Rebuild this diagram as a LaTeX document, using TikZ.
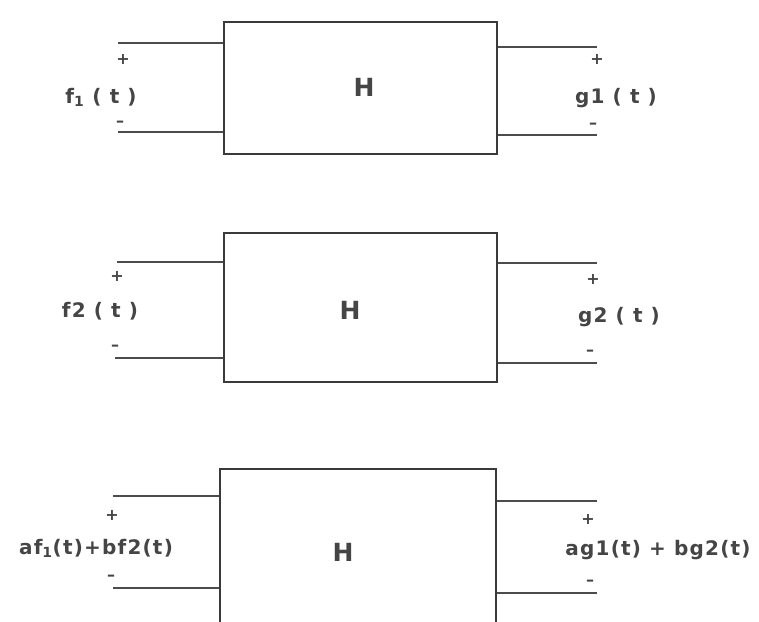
\documentclass[tikz,border=0pt]{standalone}
\usepackage{fontspec}
\setmainfont{DejaVu Sans}
\definecolor{ink}{HTML}{3A3A3A}
\definecolor{wire}{HTML}{4C4C4C}
\definecolor{txt}{HTML}{454545}
\begin{document}
\begin{tikzpicture}[x=1pt,y=-1pt,
  sysbox/.style={draw=ink,line width=2.2pt,rectangle,inner sep=0pt},
  hlabel/.style={text=txt,inner sep=0pt,font=\fontsize{25}{27}\selectfont\bfseries},
  wireline/.style={draw=wire,line width=1.4pt},
  sig/.style={font=\fontsize{20}{22}\selectfont\bfseries\addfontfeature{LetterSpace=6},text=txt,inner sep=0pt},
  pol/.style={font=\fontsize{16}{18}\selectfont\bfseries,text=txt,inner sep=0pt}]
\useasboundingbox (0,0) rectangle (759,621);
\clip (0,0) rectangle (759,621);
\fill[white] (0,0) rectangle (759,621);
% ---------- system 1 ----------
\node[sysbox,minimum width=273pt,minimum height=132pt] (b1) at (360.5,88) {};
\node[hlabel] (h1) at (364,87) {H};
\coordinate (l1p) at (118,43);
\coordinate (l1m) at (118,132);
\coordinate (r1p) at (597,47);
\coordinate (r1m) at (597,135);
\draw[wireline] (l1p) -- (l1p -| b1.west);
\draw[wireline] (l1m) -- (l1m -| b1.west);
\draw[wireline] (r1p -| b1.east) -- (r1p);
\draw[wireline] (r1m -| b1.east) -- (r1m);
\node[pol] (p1l) at (123,59) {+};
\node[pol] (m1l) at (120,124) {–};
\node[sig] (f1) at (101,97) {f\textsubscript{1} ( t )};
\node[pol] (p1r) at (597,59) {+};
\node[pol] (m1r) at (593,126) {–};
\node[sig] (g1) at (616,98) {g1 ( t )};
% ---------- system 2 ----------
\node[sysbox,minimum width=273pt,minimum height=149pt] (b2) at (360.5,307.5) {};
\node[hlabel] (h2) at (350,310) {H};
\coordinate (l2p) at (117,262);
\coordinate (l2m) at (115,358);
\coordinate (r2p) at (597,263);
\coordinate (r2m) at (597,363);
\draw[wireline] (l2p) -- (l2p -| b2.west);
\draw[wireline] (l2m) -- (l2m -| b2.west);
\draw[wireline] (r2p -| b2.east) -- (r2p);
\draw[wireline] (r2m -| b2.east) -- (r2m);
\node[pol] (p2l) at (117,276) {+};
\node[pol] (m2l) at (115,348) {–};
\node[sig] (f2) at (100,311) {f2 ( t )};
\node[pol] (p2r) at (593,279) {+};
\node[pol] (m2r) at (590,353) {–};
\node[sig] (g2) at (619,317) {g2 ( t )};
% ---------- system 3 ----------
\node[sysbox,minimum width=276pt,minimum height=180pt] (b3) at (358,559) {};
\node[hlabel] (h3) at (343,552) {H};
\coordinate (l3p) at (113,496);
\coordinate (l3m) at (113,588);
\coordinate (r3p) at (597,501);
\coordinate (r3m) at (597,593);
\draw[wireline] (l3p) -- (l3p -| b3.west);
\draw[wireline] (l3m) -- (l3m -| b3.west);
\draw[wireline] (r3p -| b3.east) -- (r3p);
\draw[wireline] (r3m -| b3.east) -- (r3m);
\node[pol] (p3l) at (112,515) {+};
\node[pol] (m3l) at (111,578) {–};
\node[sig] (f3) at (96,548) {af\textsubscript{1}(t)+bf2(t)};
\node[pol] (p3r) at (588,519) {+};
\node[pol] (m3r) at (590,583) {–};
\node[sig] (g3) at (658,550) {ag1(t) + bg2(t)};
\end{tikzpicture}
\end{document}
